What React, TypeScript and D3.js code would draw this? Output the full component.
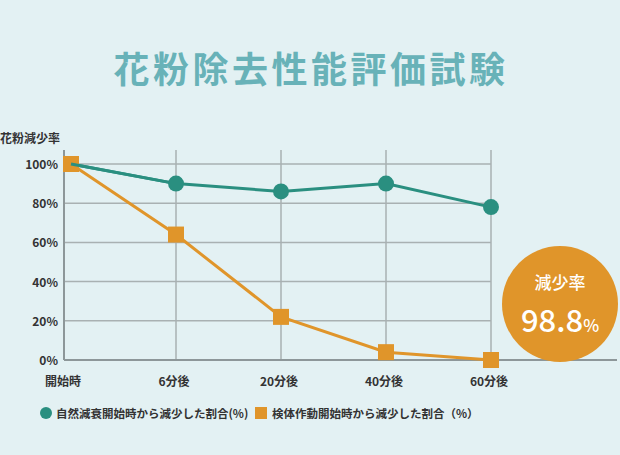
import React, { useRef, useEffect } from "react";
import * as d3 from "d3";

const categories = ["開始時", "6分後", "20分後", "40分後", "60分後"];
const naturalValues = [100, 90, 86, 90, 78];
const deviceValues = [100, 64, 22, 4, 0];
const yTicks = [0, 20, 40, 60, 80, 100];
const legendLabels = ["自然減衰開始時から減少した割合(%)", "検体作動開始時から減少した割合（%）"];

const GREEN = "#2a8f80";
const ORANGE = "#e0952a";
const FONT = "'Noto Sans CJK JP', 'Noto Sans', sans-serif";

const App = () => {
  const ref = useRef<SVGSVGElement>(null);

  useEffect(() => {
    const width = 620;
    const height = 455;
    const svg = d3.select(ref.current).attr("width", width).attr("height", height);
    svg.selectAll("*").remove();

    svg.append("rect").attr("width", width).attr("height", height).attr("fill", "#e3f1f3");

    svg
      .append("text")
      .attr("x", 311)
      .attr("y", 83)
      .attr("text-anchor", "middle")
      .style("font-family", FONT)
      .style("font-size", "36px")
      .style("font-weight", "700")
      .style("letter-spacing", "3.5px")
      .style("fill", "#68b2b8")
      .text("花粉除去性能評価試験");

    const x = d3.scalePoint<string>().domain(categories).range([71, 491]);
    const y = d3.scaleLinear().domain([0, 100]).range([360, 164]);
    const axisX = 64;

    const g = svg.append("g");

    // horizontal grid
    g.selectAll("line.h")
      .data(yTicks.filter((d) => d > 0))
      .enter()
      .append("line")
      .attr("x1", axisX)
      .attr("x2", 491)
      .attr("y1", (d) => y(d))
      .attr("y2", (d) => y(d))
      .attr("stroke", "#a9b1b2")
      .attr("stroke-width", 1.5);

    // vertical grid
    g.selectAll("line.v")
      .data(categories.slice(1))
      .enter()
      .append("line")
      .attr("x1", (d) => x(d)!)
      .attr("x2", (d) => x(d)!)
      .attr("y1", 150)
      .attr("y2", 360)
      .attr("stroke", "#a9b1b2")
      .attr("stroke-width", 1.5);

    // axes
    g.append("line")
      .attr("x1", axisX)
      .attr("x2", axisX)
      .attr("y1", 150)
      .attr("y2", 360)
      .attr("stroke", "#8d9799")
      .attr("stroke-width", 2);
    g.append("line")
      .attr("x1", axisX)
      .attr("x2", 617)
      .attr("y1", 360)
      .attr("y2", 360)
      .attr("stroke", "#8d9799")
      .attr("stroke-width", 2);

    g.selectAll("text.ytick")
      .data(yTicks)
      .enter()
      .append("text")
      .attr("x", 58)
      .attr("y", (d) => y(d) + 5)
      .attr("text-anchor", "end")
      .style("font-family", FONT)
      .style("font-size", "12px")
      .style("font-weight", "600")
      .style("fill", "#333")
      .text((d) => `${d}%`);

    g.append("text")
      .attr("x", 0)
      .attr("y", 143)
      .style("font-family", FONT)
      .style("font-size", "12px")
      .style("font-weight", "700")
      .style("fill", "#333")
      .text("花粉減少率");

    g.selectAll("text.xtick")
      .data(categories)
      .enter()
      .append("text")
      .attr("x", (d, i) => (i === 0 ? 63 : x(d)! - 2))
      .attr("y", 386)
      .attr("text-anchor", "middle")
      .style("font-family", FONT)
      .style("font-size", "12px")
      .style("font-weight", "700")
      .style("fill", "#333")
      .text((d) => d);

    const line = d3
      .line<number>()
      .x((d, i) => x(categories[i])!)
      .y((d) => y(d));

    g.append("path")
      .attr("d", line(deviceValues))
      .attr("fill", "none")
      .attr("stroke", ORANGE)
      .attr("stroke-width", 3);
    g.append("path")
      .attr("d", line(naturalValues))
      .attr("fill", "none")
      .attr("stroke", GREEN)
      .attr("stroke-width", 3);

    g.selectAll("rect.m")
      .data(deviceValues)
      .enter()
      .append("rect")
      .attr("x", (d, i) => x(categories[i])! - 8)
      .attr("y", (d) => y(d) - 8)
      .attr("width", 16)
      .attr("height", 16)
      .attr("fill", ORANGE);
    // redraw first green segment over the first square
    g.append("path")
      .attr("d", line(naturalValues.slice(0, 2)))
      .attr("fill", "none")
      .attr("stroke", GREEN)
      .attr("stroke-width", 3);

    g.selectAll("circle.m")
      .data(naturalValues)
      .enter()
      .append("circle")
      .filter((d, i) => i > 0)
      .attr("cx", (d, i) => x(categories[i + 1])!)
      .attr("cy", (d) => y(d))
      .attr("r", 8)
      .attr("fill", GREEN);

    // badge
    const badge = svg.append("g").attr("transform", "translate(560,304)");
    badge.append("circle").attr("r", 58).attr("fill", ORANGE);
    badge
      .append("text")
      .attr("y", -15)
      .attr("text-anchor", "middle")
      .style("font-family", FONT)
      .style("font-size", "17px")
      .style("font-weight", "500")
      .style("fill", "#fff")
      .text("減少率");
    const t = badge
      .append("text")
      .attr("y", 28)
      .attr("text-anchor", "middle")
      .style("font-family", FONT)
      .style("font-weight", "500")
      .style("fill", "#fff");
    t.append("tspan").style("font-size", "31px").text("98.8");
    t.append("tspan").style("font-size", "17px").text("%");

    // legend
    const legend = svg.append("g").attr("transform", "translate(0,413)");
    legend.append("circle").attr("cx", 46).attr("cy", 0).attr("r", 6).attr("fill", GREEN);
    legend
      .append("text")
      .attr("x", 56)
      .attr("y", 5)
      .style("font-family", FONT)
      .style("font-size", "11.5px")
      .style("font-weight", "700")
      .style("fill", "#333")
      .text(legendLabels[0]);
    legend.append("rect").attr("x", 255).attr("y", -6).attr("width", 12).attr("height", 12).attr("fill", ORANGE);
    legend
      .append("text")
      .attr("x", 272)
      .attr("y", 5)
      .style("font-family", FONT)
      .style("font-size", "11.5px")
      .style("font-weight", "700")
      .style("fill", "#333")
      .text(legendLabels[1]);
  }, []);

  return (
    <div style={{ position: "absolute", left: 0, top: 0 }}>
      <svg ref={ref} style={{ display: "block" }}></svg>
    </div>
  );
};

export default App;
